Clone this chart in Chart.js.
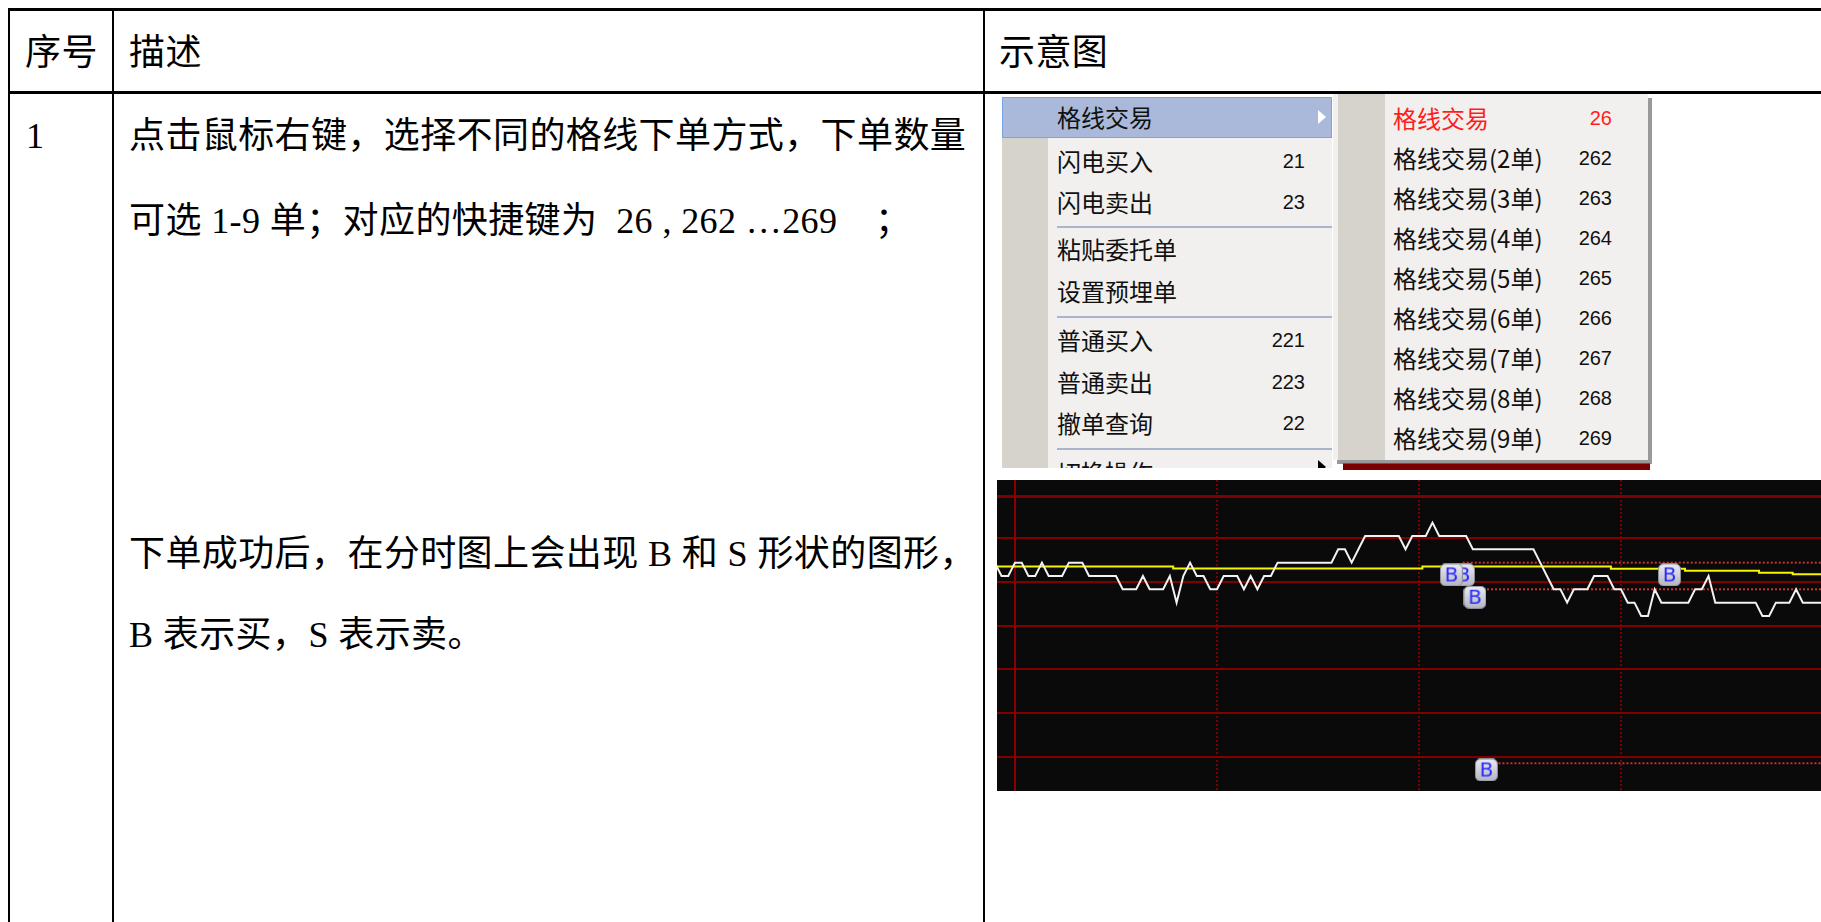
<!DOCTYPE html>
<html>
<head>
<meta charset="utf-8">
<script src="https://cdn.jsdelivr.net/npm/chart.js@4.4.1/dist/chart.umd.min.js"></script>
<style>
body { margin:0; width:1821px; height:922px; overflow:hidden; background:#fff; position:relative; }
.ln { position:absolute; background:#000; }
.txt { position:absolute; font-family:'Liberation Serif','Noto Sans CJK SC',serif; font-size:36px; line-height:40px; color:#000; white-space:pre; letter-spacing:0.4px; }
.menu { position:absolute; background:#f1f0ee; overflow:hidden; font-family:'Noto Sans CJK SC',sans-serif; }
.gut { position:absolute; top:0; bottom:0; background:#d6d3cd; }
.it { position:absolute; font-size:24px; line-height:30px; color:#111; white-space:pre; }
.key { position:absolute; font-family:'Liberation Sans',sans-serif; font-size:20px; line-height:30px; text-align:right; color:#111; }
.sep { position:absolute; height:2px; background:#a8b6cc; }
.arr { position:absolute; width:0; height:0; border-top:7px solid transparent; border-bottom:7px solid transparent; border-left:8px solid #fff; }
#wrap { position:absolute; left:997px; top:480px; width:824px; height:311px; background:#0a0a0a; }
</style>
</head>
<body>
<!-- table frame -->
<div class="ln" style="left:8px;top:8px;width:1813px;height:3px"></div>
<div class="ln" style="left:8px;top:91px;width:1813px;height:3px"></div>
<div class="ln" style="left:8px;top:8px;width:2px;height:914px"></div>
<div class="ln" style="left:112px;top:8px;width:2px;height:914px"></div>
<div class="ln" style="left:983px;top:8px;width:2px;height:914px"></div>

<div class="txt" style="left:25px;top:33px">序号</div>
<div class="txt" style="left:129px;top:33px">描述</div>
<div class="txt" style="left:999px;top:33px">示意图</div>
<div class="txt" style="left:26px;top:116px">1</div>
<div class="txt" style="left:129px;top:116px">点击鼠标右键，选择不同的格线下单方式，下单数量</div>
<div class="txt" style="left:129px;top:201px">可选 1-9 单；对应的快捷键为  26 , 262 …269    ；</div>
<div class="txt" style="left:129px;top:534px">下单成功后，在分时图上会出现 B 和 S 形状的图形，</div>
<div class="txt" style="left:129px;top:615px">B 表示买，S 表示卖。</div>

<!-- right-click menu -->
<div class="menu" style="left:1002px;top:97px;width:330px;height:371px">
  <div class="gut" style="left:0;width:46px"></div>
  <div style="position:absolute;left:0;top:0;width:328px;height:39px;background:#aab9da;border:1px solid #78a4e2"></div>
  <div class="arr" style="left:316px;top:13px"></div>
  <div class="it" style="left:55px;top:5px">格线交易</div>
  <div class="it" style="left:55px;top:49px">闪电买入</div><div class="key" style="right:27px;top:49px">21</div>
  <div class="it" style="left:55px;top:90px">闪电卖出</div><div class="key" style="right:27px;top:90px">23</div>
  <div class="sep" style="left:55px;top:129px;width:275px"></div>
  <div class="it" style="left:55px;top:137px">粘贴委托单</div>
  <div class="it" style="left:55px;top:179px">设置预埋单</div>
  <div class="sep" style="left:55px;top:219px;width:275px"></div>
  <div class="it" style="left:55px;top:228px">普通买入</div><div class="key" style="right:27px;top:228px">221</div>
  <div class="it" style="left:55px;top:270px">普通卖出</div><div class="key" style="right:27px;top:270px">223</div>
  <div class="it" style="left:55px;top:311px">撤单查询</div><div class="key" style="right:27px;top:311px">22</div>
  <div class="sep" style="left:55px;top:351px;width:275px"></div>
  <div class="it" style="left:55px;top:360px">切换操作</div>
  <div class="arr" style="left:316px;top:363px;border-left-color:#000"></div>
</div>
<div style="position:absolute;left:1343px;top:463px;width:307px;height:7px;background:#7a0000"></div>
<div class="menu" style="left:1333px;top:94px;width:315px;height:366px;box-shadow:4px 4px 0 rgba(110,110,110,.7)">
  <div class="gut" style="left:5px;width:47px"></div>
  <div class="it" style="left:60px;top:9px;color:#ff1e1e">格线交易</div><div class="key" style="right:36px;top:9px;color:#ff1e1e">26</div>
  <div class="it" style="left:60px;top:49px">格线交易(2单)</div><div class="key" style="right:36px;top:49px">262</div>
  <div class="it" style="left:60px;top:89px">格线交易(3单)</div><div class="key" style="right:36px;top:89px">263</div>
  <div class="it" style="left:60px;top:129px">格线交易(4单)</div><div class="key" style="right:36px;top:129px">264</div>
  <div class="it" style="left:60px;top:169px">格线交易(5单)</div><div class="key" style="right:36px;top:169px">265</div>
  <div class="it" style="left:60px;top:209px">格线交易(6单)</div><div class="key" style="right:36px;top:209px">266</div>
  <div class="it" style="left:60px;top:249px">格线交易(7单)</div><div class="key" style="right:36px;top:249px">267</div>
  <div class="it" style="left:60px;top:289px">格线交易(8单)</div><div class="key" style="right:36px;top:289px">268</div>
  <div class="it" style="left:60px;top:329px">格线交易(9单)</div><div class="key" style="right:36px;top:329px">269</div>
</div>

<div id="wrap"><canvas id="chart"></canvas></div>

<script>
// intraday chart, one point per minute, price in ticks
var startMinute = -3;
var priceTicks = [
  1, 0, 0, 1, 1, 0, 0, 1, 0, 0,
  0, 1, 1, 1, 0, 0, 0, 0, 0, -1,
  -1, -1, 0, -1, -1, -1, 0, -2, 0, 1,
  0, 0, -1, -1, 0, 0, 0, -1, 0, -1,
  0, 0, 1, 1, 1, 1, 1, 1, 1, 1,
  1, 2, 2, 1, 2, 3, 3, 3, 3, 3,
  3, 2, 3, 3, 3, 4, 3, 3, 3, 3,
  3, 2, 2, 2, 2, 2, 2, 2, 2, 2,
  2, 1, 0, -1, -1, -2, -1, -1, -1, 0,
  0, 0, -1, -1, -2, -2, -3, -3, -1, -2,
  -2, -2, -2, -2, -1, -1, 0, -2, -2, -2,
  -2, -2, -2, -2, -3, -3, -2, -2, -2, -1,
  -2, -2, -2, -2
];
var avgTicks = [
  0.72, 0.72, 0.72, 0.72, 0.72, 0.72, 0.72, 0.72, 0.72, 0.72,
  0.72, 0.72, 0.72, 0.72, 0.72, 0.72, 0.72, 0.72, 0.72, 0.72,
  0.72, 0.72, 0.72, 0.72, 0.72, 0.72, 0.72, 0.56, 0.56, 0.56,
  0.56, 0.56, 0.56, 0.56, 0.56, 0.56, 0.56, 0.56, 0.56, 0.56,
  0.56, 0.56, 0.56, 0.56, 0.56, 0.56, 0.56, 0.56, 0.56, 0.56,
  0.56, 0.56, 0.56, 0.56, 0.56, 0.56, 0.56, 0.56, 0.56, 0.56,
  0.56, 0.56, 0.56, 0.56, 0.72, 0.72, 0.72, 0.72, 0.72, 0.72,
  0.72, 0.72, 0.72, 0.72, 0.72, 0.72, 0.72, 0.72, 0.72, 0.72,
  0.72, 0.72, 0.72, 0.72, 0.72, 0.72, 0.72, 0.72, 0.72, 0.72,
  0.72, 0.72, 0.55, 0.55, 0.55, 0.55, 0.55, 0.55, 0.55, 0.55,
  0.55, 0.55, 0.55, 0.4, 0.4, 0.4, 0.4, 0.4, 0.4, 0.4,
  0.4, 0.4, 0.4, 0.4, 0.25, 0.25, 0.25, 0.25, 0.25, 0.13,
  0.13, 0.13, 0.13, 0.13
];
var gridLevels = [-13.6, -10.3, -7.0, -3.73, -0.43, 2.83, 5.95];
var gridOpen = [0];
var gridHalfHours = [30, 60, 90];
var orderLevels = [1, -1, -14.05];
var orderStart = [66.5, 70.1, 71.8];
var badgeX = [66.6, 64.8, 68.3, 70.0, 97.2];
var badgeY = [0.08, 0.08, -1.6, -14.55, 0.08];
var xMin = -2.67, xMax = 119.7, yMin = -16.13, yMax = 7.2;

function makeBadge() {
  var c = document.createElement('canvas');
  c.width = 23; c.height = 23;
  var g = c.getContext('2d');
  var grad = g.createLinearGradient(0, 0, 0, 23);
  grad.addColorStop(0, '#ececf2');
  grad.addColorStop(1, '#b4b4c0');
  g.fillStyle = grad;
  g.strokeStyle = '#8c8c98';
  g.lineWidth = 1;
  g.beginPath();
  g.roundRect(0.5, 0.5, 22, 22, 5);
  g.fill(); g.stroke();
  g.fillStyle = '#2b2bff';
  g.font = '20px "DejaVu Sans"';
  g.textAlign = 'center';
  g.textBaseline = 'middle';
  g.fillText('B', 11.5, 12.5);
  return c;
}

var datasets = [
  { label: 'price', data: priceTicks.map(function (v, n) { return { x: startMinute + n, y: v }; }),
    borderColor: '#f2f2f2', borderWidth: 2, pointRadius: 0, tension: 0, order: 1 },
  { label: 'avg', data: avgTicks.map(function (v, n) { return { x: startMinute + n, y: v }; }),
    borderColor: '#f5f500', borderWidth: 2, pointRadius: 0, stepped: 'middle', order: 2 }
];
orderLevels.forEach(function (lv, n) {
  datasets.push({ label: 'order' + n, data: [{ x: orderStart[n], y: lv }, { x: xMax, y: lv }],
    borderColor: '#c83232', borderWidth: 2, borderDash: [2, 2], pointRadius: 0, order: 3 });
});
datasets.push({ type: 'scatter', label: 'B', data: badgeX.map(function (x, n) { return { x: x, y: badgeY[n] }; }),
  pointStyle: makeBadge(), pointRadius: 11, order: 0 });

function gridAxis(values, color, dash) {
  return {
    type: 'linear', min: xMin, max: xMax, position: 'bottom',
    ticks: { display: false },
    grid: { color: color, lineWidth: 2, drawTicks: false },
    border: { display: false, dash: dash },
    afterBuildTicks: function (s) { s.ticks = values.map(function (v) { return { value: v }; }); }
  };
}

var chart = new Chart(document.getElementById('chart'), {
  type: 'line',
  data: { datasets: datasets },
  options: {
    responsive: true,
    maintainAspectRatio: false,
    animation: false,
    events: [],
    layout: { padding: 0, autoPadding: false },
    plugins: { legend: { display: false }, tooltip: { enabled: false } },
    scales: {
      x: gridAxis(gridOpen, '#8a0000', []),
      x2: Object.assign(gridAxis(gridHalfHours, '#7a0000', [2, 2]), { axis: 'x' }),
      y: {
        type: 'linear', min: yMin, max: yMax,
        ticks: { display: false },
        grid: { color: '#800000', lineWidth: function (c) { return c.index === 6 ? 3 : 2; }, drawTicks: false },
        border: { display: false },
        afterBuildTicks: function (s) { s.ticks = gridLevels.map(function (v) { return { value: v }; }); }
      }
    }
  }
});
</script>
</body>
</html>
